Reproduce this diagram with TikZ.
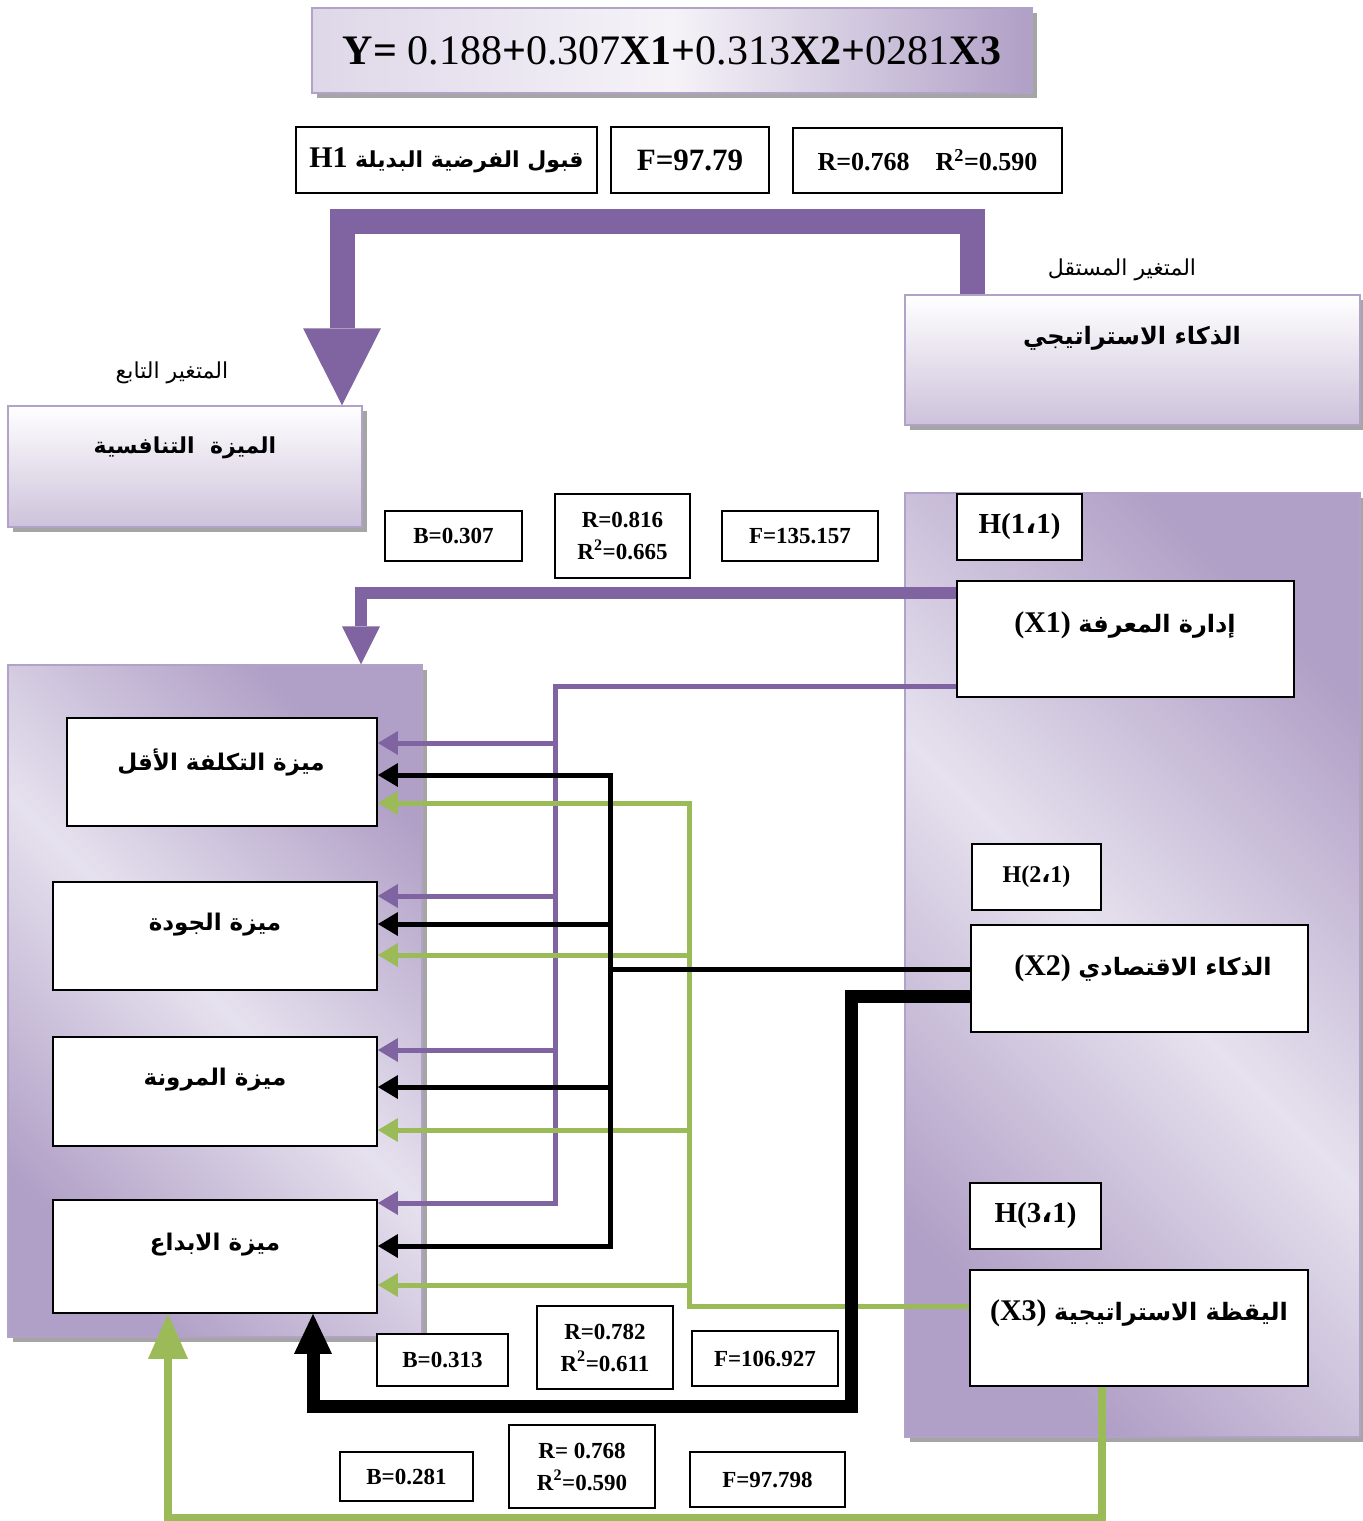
\documentclass[tikz,border=0pt]{standalone}
\usepackage{fontspec}
\setmainfont{Liberation Serif}
\newfontfamily\arabicfont[Script=Arabic]{DejaVu Sans}
\TeXXeTstate=1
\usetikzlibrary{arrows.meta,shadows}
\definecolor{vio}{HTML}{8064A2}
\definecolor{grn}{HTML}{9BBB59}
\definecolor{lavlt}{HTML}{E6E1EE}
\definecolor{lavdk}{HTML}{B09FC6}
\definecolor{lavmd}{HTML}{CDC2DB}
\definecolor{lavln}{HTML}{B3A2C7}
\definecolor{shd}{HTML}{A5A5A5}
\newcommand{\AR}[1]{{\arabicfont\beginR #1\endR}}
\newcommand{\fsz}[2]{\fontsize{#1}{#2}\selectfont}
\tikzset{
  ltip/.tip={Triangle[length=20pt,width=24pt,line width=0pt]},
  shadowed/.style={drop shadow={shadow xshift=5pt,shadow yshift=-5pt,fill=shd,opacity=1}},
  panel/.style={shadowed,draw=lavln,line width=1.5pt,top color=lavdk,bottom color=lavdk,
    middle color=lavlt,shading angle=-45,inner sep=0pt},
  headbox/.style={shadowed,draw=lavln,line width=1.5pt,top color=white,bottom color=lavmd,inner sep=0pt},
  wbox/.style={draw,line width=1.8pt,fill=white,inner sep=0pt},
  statbox/.style={draw,line width=1.3pt,fill=white,inner sep=0pt,align=center,font=\fsz{23}{32}\bfseries},
  artxt/.style={font=\fsz{#1}{#1}\bfseries},
  violine/.style={draw=vio,line width=5pt},
  grnline/.style={draw=grn,line width=5pt},
  blkline/.style={draw=black,line width=5pt}
}
\begin{document}
\begin{tikzpicture}[x=1pt,y=-1pt]
\useasboundingbox (0,0) rectangle (1363,1521);

% equation and overall test
\node[shadowed, draw=lavln, line width=1.5pt, left color=lavlt!85!lavdk, right color=lavdk,
  middle color=lavlt!40!white, inner sep=0pt, minimum width=720pt, minimum height=85pt,
  font=\fsz{42}{48}] (eq) at (672,50.5)
  {\textbf{Y=} 0.188\textbf{+}0.307\textbf{X1+}0.313\textbf{X2+}0281\textbf{X3}};
\node[wbox, minimum width=301pt, minimum height=66pt, font=\fsz{30}{34}\bfseries] (h1) at (446.5,160)
  {H1 {\fsz{22}{26}\AR{قبول الفرضية البديلة}}};
\node[wbox, minimum width=158pt, minimum height=66pt, font=\fsz{31}{34}\bfseries] (fv) at (690,160) {F=97.79};
\node[wbox, minimum width=269pt, minimum height=65pt, font=\fsz{26}{30}\bfseries] (rv) at (927.5,160.5)
  {R=0.768\quad R\textsuperscript{2}=0.590};

% independent / dependent variable
\node[font=\fsz{22}{26}\arabicfont] (indlbl) at (1122,270) {\beginR المتغير المستقل\endR};
\node[headbox, minimum width=455pt, minimum height=130pt] (ind) at (1132.5,360) {};
\node[artxt=24] (indtxt) at (1132,338) {\AR{الذكاء الاستراتيجي}};
\node[font=\fsz{22}{26}\arabicfont] (deplbl) at (172,373) {\beginR المتغير التابع\endR};
\node[headbox, minimum width=354pt, minimum height=121pt] (dep) at (185,466.5) {};
\node[artxt=22] (deptxt) at (185,448) {\AR{الميزة\ \ التنافسية}};

\draw[vio, line width=25pt, -{Triangle[length=77pt,width=78pt,line width=0pt]}]
  ([xshift=-160.5pt]ind.north) -- ++(0,-73) -| ([xshift=157pt]dep.north);

% panels
\node[panel, minimum width=455pt, minimum height=944pt] (rp) at (1132.5,965) {};
\node[panel, minimum width=414pt, minimum height=672pt] (lp) at (215,1001) {};

% dimensions of the independent variable
\node[wbox, minimum width=125pt, minimum height=66pt, font=\fsz{29}{32}\bfseries] (hx1) at (1019.5,527) {H(1{\arabicfont ،}1)};
\node[wbox, minimum width=337pt, minimum height=116pt] (x1) at (1125.5,639) {};
\node[artxt=30] (x1txt) at (1125,625) {(X1) {\fsz{24}{28}\AR{إدارة المعرفة}}};
\node[wbox, minimum width=129pt, minimum height=66pt, font=\fsz{24}{28}\bfseries] (hx2) at (1036.5,877) {H(2{\arabicfont ،}1)};
\node[wbox, minimum width=337pt, minimum height=107pt] (x2) at (1139.5,978.5) {};
\node[artxt=30] (x2txt) at (1143,968) {(X2) {\fsz{24}{28}\AR{الذكاء الاقتصادي}}};
\node[wbox, minimum width=131pt, minimum height=66pt, font=\fsz{29}{32}\bfseries] (hx3) at (1035.5,1216) {H(3{\arabicfont ،}1)};
\node[wbox, minimum width=338pt, minimum height=116pt] (x3) at (1139,1328) {};
\node[artxt=30] (x3txt) at (1139,1313) {(X3) {\fsz{24}{28}\AR{اليقظة الاستراتيجية}}};

% dimensions of the dependent variable
\node[wbox, minimum width=310pt, minimum height=108pt] (cost) at (222,772) {};
\node[artxt=23] (costtxt) at (221,762) {\AR{ميزة التكلفة الأقل}};
\node[wbox, minimum width=324pt, minimum height=108pt] (qual) at (215,936) {};
\node[artxt=23] (qualtxt) at (215,925) {\AR{ميزة الجودة}};
\node[wbox, minimum width=324pt, minimum height=109pt] (flex) at (215,1091.5) {};
\node[artxt=23] (flextxt) at (215,1080) {\AR{ميزة المرونة}};
\node[wbox, minimum width=324pt, minimum height=113pt] (innov) at (215,1256.5) {};
\node[artxt=23] (innovtxt) at (215,1245) {\AR{ميزة الابداع}};

% regression values
\node[statbox, minimum width=137pt, minimum height=50pt] (b1) at (453.5,536) {B=0.307};
\node[statbox, minimum width=135pt, minimum height=84pt] (r1) at (622.5,536) {R=0.816\\R\textsuperscript{2}=0.665};
\node[statbox, minimum width=156pt, minimum height=50pt] (f1) at (800,536) {F=135.157};
\node[statbox, minimum width=131pt, minimum height=52pt] (b2) at (442.5,1360) {B=0.313};
\node[statbox, minimum width=136pt, minimum height=83pt] (r2) at (605,1347.5) {R=0.782\\R\textsuperscript{2}=0.611};
\node[statbox, minimum width=146pt, minimum height=55pt] (f2) at (765,1358.5) {F=106.927};
\node[statbox, minimum width=133pt, minimum height=49pt] (b3) at (406.5,1476.5) {B=0.281};
\node[statbox, minimum width=146pt, minimum height=83pt] (r3) at (582,1466.5) {R= 0.768\\R\textsuperscript{2}=0.590};
\node[statbox, minimum width=155pt, minimum height=55pt] (f3) at (767.5,1479.5) {F=97.798};

% X1
\draw[vio, line width=12pt, -{Triangle[length=38pt,width=38pt,line width=0pt]}]
  ([yshift=46pt]x1.west) -| ([xshift=146pt]lp.north);
\draw[violine, -ltip] ([yshift=-47pt]x1.west) -| ([xshift=178pt,yshift=53.5pt]innov.east) -- ([yshift=53.5pt]innov.east);
\foreach \b/\s in {cost/29,qual/40,flex/41.5}
  \draw[violine, -ltip] ([yshift=\s pt]\b.east) ++(178,0) -- ([yshift=\s pt]\b.east);

% X3
\draw[grnline, ltip-] ([yshift=-31pt]cost.east) -| ([xshift=-280pt,yshift=22pt]x3.west) -- ([yshift=22pt]x3.west);
\foreach \b/\s in {qual/-19,flex/-38.5,innov/-28.5}
  \draw[grnline, -ltip] ([yshift=\s pt]\b.east) ++(313,0) -- ([yshift=\s pt]\b.east);

% X2
\draw[blkline, ltip-ltip] ([yshift=-3pt]cost.east) -| ([xshift=233pt,yshift=10.5pt]innov.east) -- ([yshift=10.5pt]innov.east);
\foreach \b/\s in {qual/12,flex/4.5}
  \draw[blkline, -ltip] ([yshift=\s pt]\b.east) ++(233,0) -- ([yshift=\s pt]\b.east);
\draw[blkline] ([yshift=9.5pt]x2.west) -- ++(-361,0);

\draw[black, line width=13pt, -{Triangle[length=40pt,width=38pt,line width=0pt]}]
  ([yshift=-17.5pt]x2.west) -- ++(-119,0) -- ++(0,410) -| ([xshift=98pt]innov.south);
\draw[grn, line width=8pt, -{Triangle[length=45pt,width=40pt,line width=0pt]}]
  ([xshift=-37pt]x3.south) -- ++(0,131) -| ([xshift=-47pt]innov.south);
\end{tikzpicture}
\end{document}
